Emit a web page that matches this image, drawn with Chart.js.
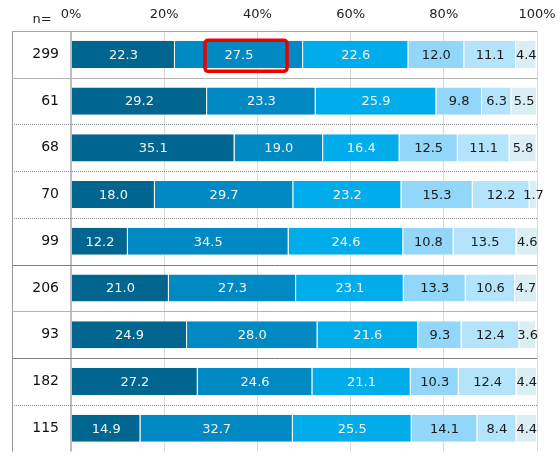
<!DOCTYPE html>
<html lang="ja">
<head>
<meta charset="UTF-8">
<title>回答割合</title>
<script src="https://cdn.jsdelivr.net/npm/chart.js@4.4.0/dist/chart.umd.min.js"></script>
<style>
  html, body { margin: 0; padding: 0; overflow: hidden; background: #fff; }
</style>
</head>
<body>
<canvas id="myChart" width="560" height="464"></canvas>

<script>
// sample sizes per row (n=)
const nLabels = ['299', '61', '68', '70', '99', '206', '93', '182', '115'];

// answer shares, %
const s1 = [22.3, 29.2, 35.1, 18.0, 12.2, 21.0, 24.9, 27.2, 14.9];
const s2 = [27.5, 23.3, 19.0, 29.7, 34.5, 27.3, 28.0, 24.6, 32.7];
const s3 = [22.6, 25.9, 16.4, 23.2, 24.6, 23.1, 21.6, 21.1, 25.5];
const s4 = [12.0, 9.8, 12.5, 15.3, 10.8, 13.3, 9.3, 10.3, 14.1];
const s5 = [11.1, 6.3, 11.1, 12.2, 13.5, 10.6, 12.4, 12.4, 8.4];
const s6 = [4.4, 5.5, 5.8, 1.7, 4.6, 4.7, 3.6, 4.4, 4.4];

const xTicks = [0, 20, 40, 60, 80, 100];

// line style under each row (solid / dotted / dark)
const rowRules = ['solid', 'dot', 'dot', 'dot', 'dark', 'solid', 'dark', 'dot', 'none'];

const colors = ['#006690', '#0089c3', '#00adea', '#92d7f9', '#b4e4fb', '#daeef3'];
const textColors = ['#f4f4f4', '#f4f4f4', '#f4f4f4', '#1a1a1a', '#1a1a1a', '#1a1a1a'];
const series = [s1, s2, s3, s4, s5, s6];

const FONT = '"DejaVu Sans", Verdana, sans-serif';

// separators, frame, "n=" and the value labels
const framePlugin = {
  id: 'frame',
  beforeDatasetsDraw(chart) {
    const { ctx, chartArea, scales } = chart;
    const y = scales.y;
    const left = 12, right = chartArea.right;
    ctx.save();
    ctx.lineWidth = 1;
    // top rule
    ctx.strokeStyle = '#a6a6a6';
    ctx.beginPath();
    ctx.moveTo(left, chartArea.top + 0.5);
    ctx.lineTo(right, chartArea.top + 0.5);
    ctx.stroke();
    // left frame
    ctx.strokeStyle = '#999';
    ctx.beginPath();
    ctx.moveTo(left + 0.5, chartArea.top);
    ctx.lineTo(left + 0.5, chartArea.bottom);
    ctx.stroke();
    // row separators
    for (let i = 0; i < nLabels.length - 1; i++) {
      const py = Math.round((y.getPixelForValue(i) + y.getPixelForValue(i + 1)) / 2) + 0.5;
      const kind = rowRules[i];
      if (kind === 'none') continue;
      ctx.setLineDash(kind === 'dot' ? [1, 1] : []);
      ctx.strokeStyle = kind === 'dark' ? '#808080' : (kind === 'dot' ? '#8c8c8c' : '#b3b3b3');
      ctx.beginPath();
      ctx.moveTo(left, py);
      ctx.lineTo(right, py);
      ctx.stroke();
    }
    ctx.setLineDash([]);
    // n=
    ctx.fillStyle = '#222';
    ctx.font = '13px ' + FONT;
    ctx.textAlign = 'center';
    ctx.textBaseline = 'middle';
    ctx.fillText('n=', 42, 20);
    ctx.restore();
  },
  afterDatasetsDraw(chart) {
    const { ctx } = chart;
    ctx.save();
    ctx.font = '13px ' + FONT;
    ctx.textAlign = 'center';
    ctx.textBaseline = 'middle';
    chart.data.datasets.forEach((ds, di) => {
      const meta = chart.getDatasetMeta(di);
      meta.data.forEach((bar, i) => {
        const cx = (bar.x + bar.base) / 2;
        ctx.fillStyle = textColors[di];
        ctx.fillText(ds.data[i].toFixed(1), cx, bar.y + 1);
      });
    });
    // highlight box around the second segment of the first row
    const hl = chart.getDatasetMeta(1).data[0];
    const hx = (hl.x + hl.base) / 2;
    ctx.strokeStyle = '#ee0000';
    ctx.lineWidth = 3.5;
    ctx.beginPath();
    ctx.roundRect(hx - 34, hl.y - 14, 82, 31, 3);
    ctx.stroke();
    ctx.restore();
  }
};

const ctx = document.getElementById('myChart').getContext('2d');
const myChart = new Chart(ctx, {
  type: 'bar',
  data: {
    labels: nLabels,
    datasets: series.map((d, i) => ({
      data: d,
      backgroundColor: colors[i],
      borderColor: 'rgba(255,255,255,0.35)',
      borderWidth: { right: 1, left: 0, top: 0, bottom: 0 },
      borderSkipped: false,
      barPercentage: 0.58,
      categoryPercentage: 1
    }))
  },
  options: {
    indexAxis: 'y',
    responsive: false,
    animation: false,
    devicePixelRatio: 1,
    layout: { padding: { left: 0, right: 23, top: 0, bottom: 1 } },
    plugins: { legend: { display: false }, tooltip: { enabled: false } },
    scales: {
      x: {
        position: 'top',
        stacked: true,
        min: 0,
        max: 100,
        afterBuildTicks: s => { s.ticks = xTicks.map(v => ({ value: v })); },
        ticks: {
          callback: v => v + '%',
          font: { family: FONT, size: 13 },
          color: '#222',
          padding: 9,
          maxRotation: 0
        },
        grid: {
          color: c => (c.tick && c.tick.value === 0) ? '#bdbdbd' : '#dadada',
          lineWidth: c => (c.tick && c.tick.value === 0) ? 2 : 1,
          drawTicks: false
        },
        border: { display: false },
        afterFit: s => { s.height = 31; s.paddingLeft = 0; s.paddingRight = 0; }
      },
      y: {
        stacked: true,
        ticks: {
          font: { family: FONT, size: 14 },
          color: '#111',
          padding: 4
        },
        grid: { display: false },
        border: { display: false },
        afterFit: s => { s.width = 71; }
      }
    }
  },
  plugins: [framePlugin]
});
</script>
</body>
</html>
